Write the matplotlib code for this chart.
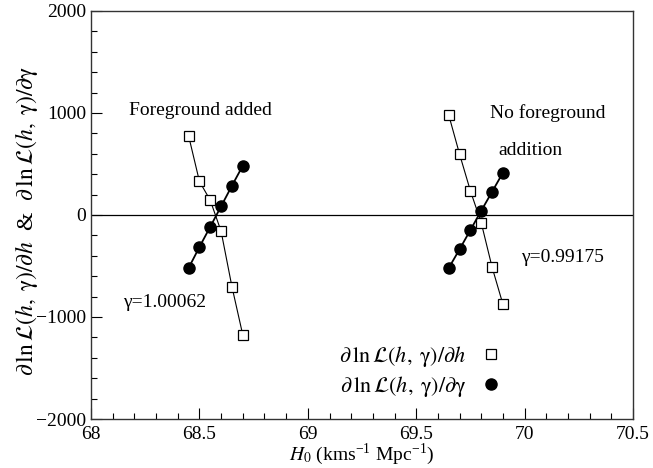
import numpy as np
import matplotlib
matplotlib.use("Agg")
import matplotlib.pyplot as plt
from matplotlib.lines import Line2D
from matplotlib.ticker import MultipleLocator, FormatStrFormatter

plt.rcParams['font.family'] = 'serif'
plt.rcParams['font.serif'] = ['Liberation Serif', 'DejaVu Serif']
plt.rcParams['mathtext.fontset'] = 'stix'

# foreground added
h0_fg = [68.45, 68.50, 68.55, 68.60, 68.65, 68.70]
dh_fg = [777, 330, 144, -160, -703, -1176]
dg_fg = [-520, -314, -115, 85, 287, 483]

# no foreground addition
h0_nofg = [69.65, 69.70, 69.75, 69.80, 69.85, 69.90]
dh_nofg = [980, 596, 236, -77, -512, -876]
dg_nofg = [-520, -336, -147, 42, 228, 415]

lab_h = r'$\partial\,\mathrm{ln}\,\mathcal{L}(h,\;\mathrm{\gamma})/\partial h$'
lab_g = r'$\partial\,\mathrm{ln}\,\mathcal{L}(h,\;\mathrm{\gamma})/\partial\mathrm{\gamma}$'

fig = plt.figure(figsize=(6.53, 4.68), dpi=100)
ax = fig.add_axes([0.1394, 0.1047, 0.83, 0.8718])

for x, dh, dg in [(h0_fg, dh_fg, dg_fg), (h0_nofg, dh_nofg, dg_nofg)]:
    ax.plot(x, dh, '-', color='black', lw=0.8, marker='s', ms=7,
            mfc='white', mec='black', mew=0.9)
    ax.plot(x, dg, '-', color='black', lw=1.3, marker='o', ms=8,
            mfc='black', mec='black')

ax.axhline(0, color='black', lw=0.9)

ax.set_xlim(68, 70.5)
ax.set_ylim(-2000, 2000)
ax.xaxis.set_major_locator(MultipleLocator(0.5))
ax.xaxis.set_minor_locator(MultipleLocator(0.1))
ax.yaxis.set_major_locator(MultipleLocator(1000))
ax.yaxis.set_minor_locator(MultipleLocator(200))
ax.xaxis.set_major_formatter(FormatStrFormatter('%g'))
ax.tick_params(which='both', direction='in', top=False, right=False,
               labelsize=14, width=0.8)
ax.tick_params(axis='x', which='major', pad=5)
ax.tick_params(which='major', length=8)
ax.tick_params(which='minor', length=4)
for s in ax.spines.values():
    s.set_linewidth(1.0)
    s.set_color('#333333')

ax.set_xlabel(r'$H_{0}$ (kms$^{\mathregular{-1}}$ Mpc$^{\mathregular{-1}}$)',
              fontsize=14, labelpad=-1)
ax.set_ylabel(lab_h + '  &  ' + lab_g, fontsize=17)
ax.yaxis.set_label_coords(-0.094, 0.485)

ax.text(68.175, 1020, 'Foreground added', fontsize=14, va='center')
ax.text(68.15, -860, 'γ=1.00062', fontsize=14, va='center')
ax.text(69.84, 1000, 'No foreground', fontsize=14, va='center')
ax.text(69.88, 630, 'addition', fontsize=14, va='center')
ax.text(69.985, -420, 'γ=0.99175', fontsize=14, va='center')

handles = [
    Line2D([], [], ls='none', marker='s', ms=7, mfc='white', mec='black', mew=0.9),
    Line2D([], [], ls='none', marker='o', ms=8, mfc='black', mec='black'),
]
ax.legend(handles, [lab_h, lab_g], loc='upper right',
          bbox_to_anchor=(0.5, 0.0, 0.279, 0.212), markerfirst=False,
          frameon=False, fontsize=16, handlelength=1.0, handletextpad=0.6,
          labelspacing=0.25, borderpad=0)

fig.savefig('out.png', dpi=100)
